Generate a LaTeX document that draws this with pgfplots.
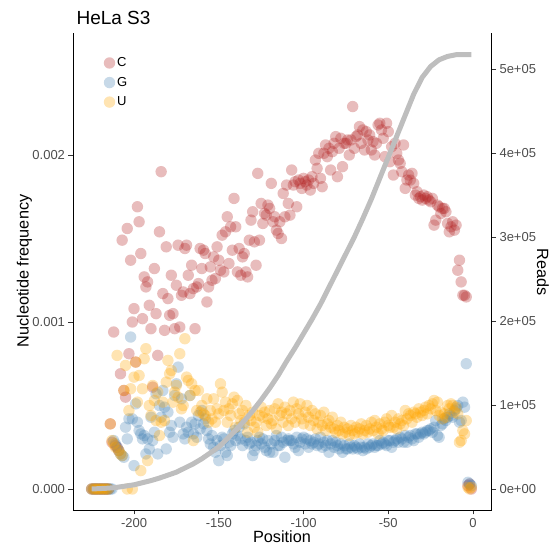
\documentclass[border=0pt]{standalone}
\usepackage{pgfplots}
\pgfplotsset{compat=1.18}
\usepackage{pgfplotstable}
\usepackage{fontspec}
\setmainfont{Liberation Sans}
\definecolor{cC}{RGB}{178,34,34}
\definecolor{cG}{RGB}{70,130,180}
\definecolor{cU}{RGB}{255,165,0}
\definecolor{curvegray}{RGB}{190,190,190}
\definecolor{tickgray}{RGB}{77,77,77}
% frequencies in units of 0.001
\pgfplotstableread{
pos C G U
-225 0 0 0
-224 0 0 0
-223 0 0 0
-222 0 0 0
-221 0 0 0
-220 0 0 0
-219 0 0 0
-218 0 0 0
-217 0 0 0
-216 0 0 0
-215 0 0 0
-214 0.39 0 0.39
-213 0.28 0 0.29
-212 0.94 0.29 0.27
-211 0.26 0.27 0.25
-210 0.25 0.25 0.80
-209 0.23 0.23 0.23
-208 0.69 0.21 0.21
-207 1.49 0.20 0.20
-206 0.59 0.19 0.59
-205 0.55 0.37 0.74
-204 1.56 0.30 0.00
-203 0.81 0.42 0.47
-202 1.37 0.91 0.60
-201 1.00 0.42 0.00
-200 1.08 0.14 0.67
-199 0.76 0.51 0.76
-198 1.69 0.40 0.52
-197 1.60 0.35 0.68
-196 1.41 0.33 0.11
-195 1.02 0.30 0.60
-194 1.27 0.32 0.78
-193 1.21 0.21 0.84
-192 1.24 0.30 0.17
-191 1.10 0.24 0.50
-190 0.96 0.43 0.44
-189 0.61 0.29 0.62
-188 1.32 0.34 0.53
-187 1.05 0.57 0.41
-186 0.80 0.21 0.58
-185 1.54 0.50 0.32
-184 1.90 0.43 0.40
-183 1.17 0.59 0.52
-182 0.95 0.49 0.41
-181 1.45 0.24 0.64
-180 1.14 0.46 0.77
-179 1.04 0.34 0.69
-178 1.28 0.38 0.71
-177 1.05 0.31 0.52
-176 0.96 0.56 0.58
-175 1.22 0.63 0.62
-174 1.46 0.73 0.55
-173 0.97 0.40 0.81
-172 1.16 0.54 0.48
-171 1.18 0.33 0.50
-170 1.44 0.30 0.90
-169 1.46 0.37 0.67
-168 1.28 0.34 0.65
-167 1.17 0.56 0.56
-166 1.34 0.40 0.63
-165 1.20 0.33 0.29
-164 0.96 0.39 0.59
-163 1.21 0.31 0.47
-162 1.23 0.44 0.59
-161 1.44 0.36 0.46
-160 1.32 0.47 0.50
-159 1.43 0.39 0.45
-158 1.41 0.42 0.44
-157 1.12 0.35 0.54
-156 1.21 0.30 0.40
-155 1.33 0.27 0.47
-154 1.25 0.32 0.42
-153 1.39 0.25 0.54
-152 1.26 0.22 0.40
-151 1.45 0.29 0.48
-150 1.37 0.17 0.45
-149 1.31 0.26 0.63
-148 1.52 0.31 0.58
-147 1.30 0.30 0.47
-146 1.54 0.22 0.52
-145 1.63 0.20 0.40
-144 1.35 0.28 0.48
-143 1.57 0.26 0.44
-142 1.43 0.33 0.51
-141 1.74 0.35 0.55
-140 1.57 0.29 0.37
-139 1.30 0.32 0.53
-138 1.44 0.37 0.45
-137 1.28 0.30 0.41
-136 1.39 0.26 0.47
-135 1.41 0.39 0.40
-134 1.30 0.29 0.50
-133 1.27 0.31 0.34
-132 1.49 0.27 0.44
-131 1.61 0.28 0.41
-130 1.66 0.20 0.46
-129 1.48 0.23 0.37
-128 1.34 0.26 0.40
-127 1.89 0.29 0.34
-126 1.49 0.31 0.44
-125 1.71 0.27 0.49
-124 1.59 0.30 0.43
-123 1.65 0.25 0.46
-122 1.64 0.23 0.38
-121 1.70 0.29 0.42
-120 1.68 0.22 0.47
-119 1.83 0.27 0.39
-118 1.60 0.22 0.41
-117 1.63 0.29 0.48
-116 1.55 0.32 0.36
-115 1.53 0.26 0.51
-114 1.60 0.26 0.44
-113 1.50 0.31 0.46
-112 1.77 0.28 0.40
-111 1.63 0.19 0.49
-110 1.82 0.29 0.45
-109 1.71 0.30 0.38
-108 1.64 0.29 0.47
-107 1.91 0.29 0.42
-106 1.82 0.27 0.52
-105 1.84 0.25 0.40
-104 1.69 0.31 0.48
-103 1.85 0.23 0.45
-102 1.83 0.28 0.51
-101 1.80 0.30 0.42
-100 1.86 0.31 0.39
-99 1.84 0.27 0.46
-98 1.82 0.30 0.50
-97 1.85 0.25 0.43
-96 1.79 0.29 0.38
-95 1.87 0.27 0.47
-94 1.83 0.28 0.41
-93 1.97 0.30 0.45
-92 1.92 0.26 0.36
-91 2.01 0.27 0.40
-90 1.86 0.31 0.44
-89 1.81 0.25 0.38
-88 2.01 0.28 0.46
-87 2.06 0.26 0.35
-86 1.99 0.29 0.39
-85 2.04 0.22 0.41
-84 1.91 0.27 0.37
-83 2.02 0.29 0.43
-82 2.07 0.25 0.36
-81 2.11 0.28 0.34
-80 1.87 0.26 0.38
-79 2.04 0.24 0.35
-78 2.10 0.27 0.40
-77 1.93 0.22 0.33
-76 2.07 0.26 0.37
-75 2.07 0.24 0.34
-74 2.09 0.24 0.36
-73 2.00 0.27 0.32
-72 2.09 0.25 0.38
-71 2.29 0.24 0.35
-70 2.04 0.26 0.33
-69 2.11 0.25 0.37
-68 2.12 0.24 0.34
-67 2.17 0.27 0.36
-66 2.07 0.25 0.39
-65 2.15 0.23 0.33
-64 2.03 0.25 0.35
-63 2.14 0.24 0.38
-62 2.09 0.27 0.34
-61 2.12 0.25 0.36
-60 2.03 0.26 0.40
-59 2.08 0.27 0.35
-58 2.00 0.25 0.41
-57 2.07 0.26 0.37
-56 2.18 0.26 0.33
-55 2.19 0.29 0.39
-54 2.15 0.27 0.36
-53 2.10 0.28 0.35
-52 1.99 0.27 0.40
-51 2.19 0.26 0.42
-50 2.14 0.29 0.38
-49 1.96 0.29 0.37
-48 2.05 0.25 0.44
-47 1.88 0.28 0.37
-46 2.07 0.29 0.40
-45 2.01 0.30 0.36
-44 1.97 0.28 0.42
-43 1.95 0.31 0.39
-42 1.90 0.30 0.41
-41 2.06 0.28 0.38
-40 1.80 0.32 0.47
-39 1.85 0.28 0.42
-38 1.88 0.31 0.45
-37 1.85 0.32 0.44
-36 1.89 0.30 0.40
-35 1.83 0.29 0.46
-34 1.76 0.33 0.45
-33 1.78 0.33 0.43
-32 1.74 0.31 0.48
-31 1.75 0.33 0.46
-30 1.73 0.34 0.44
-29 1.76 0.33 0.47
-28 1.74 0.34 0.49
-27 1.75 0.35 0.45
-26 1.73 0.35 0.50
-25 1.72 0.36 0.48
-24 1.74 0.34 0.51
-23 1.58 0.37 0.53
-22 1.61 0.41 0.47
-21 1.70 0.32 0.52
-20 1.69 0.31 0.44
-19 1.65 0.38 0.46
-18 1.68 0.39 0.42
-17 1.68 0.42 0.45
-16 1.66 0.41 0.43
-15 1.59 0.43 0.50
-14 1.54 0.45 0.48
-13 1.57 0.44 0.51
-12 1.60 0.43 0.50
-11 1.55 0.47 0.46
-10 1.58 0.48 0.49
-9 1.31 0.50 0.45
-8 1.37 0.40 0.28
-7 1.24 0.41 0.29
-6 1.16 0.52 0.35
-5 1.16 0.49 0.33
-4 1.15 0.75 0.41
-3 0.02 0.04 0.01
-2 0.03 0.03 0.00
-1 0.00 0.02 0.01
}\freq
% cumulative reads in units of 1e5
\pgfplotstableread{
pos reads
-225 0
-220 0.005
-215 0.01
-210 0.02
-205 0.035
-200 0.05
-195 0.075
-190 0.10
-185 0.13
-180 0.165
-175 0.20
-170 0.25
-165 0.30
-160 0.36
-155 0.43
-150 0.50
-145 0.60
-140 0.70
-135 0.81
-130 0.93
-125 1.06
-120 1.20
-115 1.35
-110 1.52
-105 1.68
-100 1.85
-95 2.02
-90 2.20
-85 2.40
-80 2.60
-75 2.80
-70 3.00
-65 3.22
-60 3.45
-55 3.70
-50 3.95
-45 4.20
-40 4.45
-35 4.70
-30 4.90
-25 5.03
-20 5.11
-15 5.15
-10 5.17
-5 5.17
-1 5.17
}\reads
\begin{document}
\begin{tikzpicture}
\useasboundingbox (0,0) rectangle (552pt,548pt);
\begin{axis}[
  scale only axis, width=418.5pt, height=477pt,
  at={(73pt,38pt)}, anchor=south west,
  xmin=-236, xmax=10.9, ymin=-0.1257, ymax=2.7305,
  axis x line*=bottom, axis y line*=left,
  axis line style={black, line width=0.8pt},
  xtick={-200,-150,-100,-50,0},
  xticklabels={-200,-150,-100,-50,0},
  ytick={0,1,2}, yticklabels={0.000,0.001,0.002},
  tick align=outside, major tick length=4.5pt,
  tick style={black!80, line width=0.6pt},
  ticklabel style={font=\fontsize{13}{13}\selectfont, text=tickgray},
  /pgf/number format/assume math mode=true,
  legend style={draw=none, fill=none, at={(0.066,0.957)}, anchor=north west,
    font=\fontsize{13}{13}\selectfont, row sep=5pt},
  legend cell align=left,
]
\addplot[only marks, mark=*, mark size=5.7pt, color=cC, mark options={fill opacity=0.3, draw opacity=0}] table[x=pos, y=C] {\freq};
\addlegendentry{C}
\addplot[only marks, mark=*, mark size=5.7pt, color=cG, mark options={fill opacity=0.3, draw opacity=0}] table[x=pos, y=G] {\freq};
\addlegendentry{G}
\addplot[only marks, mark=*, mark size=5.7pt, color=cU, mark options={fill opacity=0.3, draw opacity=0}] table[x=pos, y=U] {\freq};
\addlegendentry{U}
\end{axis}
\begin{axis}[
  scale only axis, width=418.5pt, height=477pt,
  at={(73pt,38pt)}, anchor=south west,
  xmin=-236, xmax=10.9, ymin=-0.25, ymax=5.4286,
  axis x line=none, axis y line*=right,
  axis line style={black, line width=0.8pt},
  ytick={0,1,2,3,4,5},
  yticklabels={0e+00,1e+05,2e+05,3e+05,4e+05,5e+05},
  tick align=outside, major tick length=4.5pt,
  tick style={black!80, line width=0.6pt},
  ticklabel style={font=\fontsize{13}{13}\selectfont, text=tickgray},
]
\addplot[curvegray, line width=5pt, no marks] table[x=pos, y=reads] {\reads};
\end{axis}
\node[anchor=base west, font=\fontsize{19}{19}\selectfont] at (73pt,523pt) {HeLa S3};
\node[anchor=base, font=\fontsize{16.25}{16.25}\selectfont] at (282pt,5pt) {Position};
\node[anchor=base, rotate=90, font=\fontsize{16.25}{16.25}\selectfont] at (28.5pt,277pt) {Nucleotide frequency};
\node[anchor=base, rotate=-90, font=\fontsize{16.25}{16.25}\selectfont] at (537pt,276pt) {Reads};
\end{tikzpicture}
\end{document}
